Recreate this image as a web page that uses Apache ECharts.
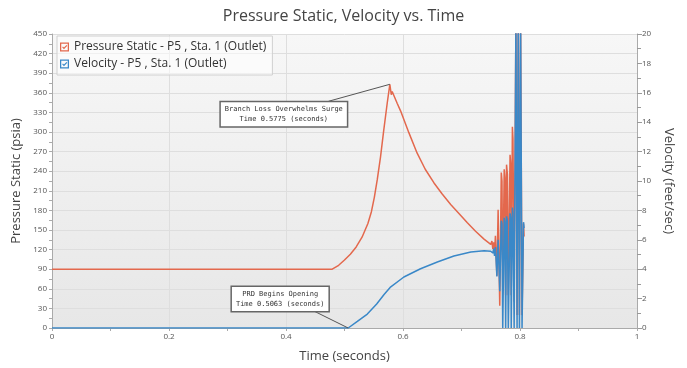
<!DOCTYPE html>
<html>
<head>
<meta charset="utf-8">
<script src="https://cdn.jsdelivr.net/npm/echarts@6/dist/echarts.min.js"></script>
<style>
  html, body { margin: 0; padding: 0; background: #fff; }
  #chart { width: 687px; height: 368px; }
</style>
</head>
<body>
<div id="chart"></div>
<script>
// pressure static at P5 (psia)
const pressureTime = [0, 0.479, 0.490, 0.500, 0.510, 0.520, 0.530, 0.540, 0.546, 0.551, 0.556, 0.5616, 0.567, 0.573, 0.5775,
  0.580, 0.5815, 0.590, 0.596, 0.610, 0.624, 0.638, 0.653, 0.667, 0.6815, 0.696, 0.710, 0.724, 0.7385, 0.750,
  0.752, 0.7535, 0.755, 0.7565, 0.758, 0.7605, 0.7626, 0.7654, 0.768, 0.7692, 0.7705, 0.773, 0.7742, 0.7755,
  0.777, 0.7785, 0.780, 0.783, 0.7842, 0.785, 0.787, 0.788, 0.790, 0.793, 0.795, 0.797, 0.799, 0.801, 0.8035,
  0.806, 0.807]
const pressureValue = [90, 90, 96, 104, 113, 124, 139, 160, 178, 200, 227, 262, 302, 344, 373,
  357, 362, 344, 332, 299, 268, 243, 222, 205, 189, 175, 161, 148, 136, 128,
  133, 121, 131, 116, 141, 80, 181, 34, 238, 225, 60, 243, 230, 50,
  250, 235, 50, 265, 250, 50, 308, 290, 40, 470, 20, 470, 20, 470, 20,
  160, 140]

// velocity at P5 (feet/sec)
const velocityTime = [0, 0.5063, 0.522, 0.539, 0.555, 0.568, 0.578, 0.6015, 0.630, 0.6587, 0.687, 0.716, 0.7385, 0.750,
  0.752, 0.7535, 0.755, 0.7565, 0.758, 0.7605, 0.7626, 0.7654, 0.768, 0.7692, 0.7705, 0.773, 0.7742, 0.7755,
  0.777, 0.7785, 0.780, 0.783, 0.7842, 0.785, 0.787, 0.788, 0.790, 0.793, 0.795, 0.797, 0.799, 0.801, 0.8035,
  0.806, 0.807]
const velocityValue = [0, 0, 0.45, 0.95, 1.63, 2.3, 2.76, 3.47, 4.03, 4.49, 4.9, 5.17, 5.25, 5.22,
  5.3, 5.1, 5.4, 4.9, 5.5, 3.5, 6.0, 2.5, 7.3, 7.1, 0, 7.5, 7.2, 0,
  7.6, 7.3, 0, 7.8, 7.5, 0, 8.2, 7.8, 0, 21, 0, 21, 0, 21, 0,
  7.2, 6.8]

const checkIcon = 'path://M0,0L10,0L10,10L0,10ZM1.4,1.4L1.4,8.6L8.6,8.6L8.6,1.4ZM2.4,5.3L3.3,4.4L4.4,5.6L7.2,2.7L8.1,3.6L4.4,7.5Z'
const font = 'Open Sans'
const monoLabel = {
  show: true,
  position: 'inside',
  fontFamily: 'DejaVu Sans Mono',
  fontSize: 7,
  lineHeight: 10,
  color: '#333',
  align: 'center',
  backgroundColor: '#fff',
  borderColor: '#666',
  borderWidth: 1.5,
  padding: [2, 4]
}

const chart = echarts.init(document.getElementById('chart'))
chart.setOption({
  animation: false,
  title: {
    text: 'Pressure Static, Velocity vs. Time',
    left: 'center',
    top: 3,
    textStyle: { fontFamily: font, fontSize: 16, fontWeight: 'normal', color: '#444' }
  },
  legend: {
    orient: 'vertical',
    left: 57,
    top: 36,
    itemWidth: 9,
    itemHeight: 9,
    itemGap: 5,
    padding: [5, 6, 5, 3],
    backgroundColor: 'rgba(255,255,255,0.55)',
    borderColor: '#d0d0d0',
    borderWidth: 1,
    borderRadius: 0,
    icon: checkIcon,
    textStyle: { fontFamily: font, fontSize: 12, color: '#333' },
    data: ['Pressure Static - P5 , Sta. 1 (Outlet)', 'Velocity - P5 , Sta. 1 (Outlet)']
  },
  grid: {
    left: 52,
    right: 50,
    top: 34,
    bottom: 38,
    show: true,
    borderWidth: 0,
    backgroundColor: new echarts.graphic.LinearGradient(0, 0, 0, 1, [
      { offset: 0, color: '#f7f7f7' },
      { offset: 1, color: '#e7e7e7' }
    ])
  },
  xAxis: {
    type: 'value',
    min: 0,
    max: 1,
    interval: 0.2,
    name: 'Time (seconds)',
    nameLocation: 'middle',
    nameGap: 22,
    nameTextStyle: { fontFamily: font, fontSize: 13, color: '#444' },
    axisLine: { lineStyle: { color: '#aaa' } },
    axisTick: { length: 3, lineStyle: { color: '#aaa' } },
    minorTick: { show: true, splitNumber: 2, length: 3, lineStyle: { color: '#aaa' } },
    axisLabel: { fontFamily: font, fontSize: 8, color: '#555', margin: 5 },
    splitLine: { show: true, lineStyle: { color: '#dedede' } }
  },
  yAxis: [
    {
      type: 'value',
      min: 0,
      max: 450,
      interval: 30,
      name: 'Pressure Static (psia)',
      nameLocation: 'middle',
      nameGap: 25,
      nameTextStyle: { fontFamily: font, fontSize: 13, color: '#444' },
      axisLine: { show: true, lineStyle: { color: '#aaa' } },
      axisTick: { show: true, length: 3, lineStyle: { color: '#aaa' } },
      minorTick: { show: true, splitNumber: 2, length: 3, lineStyle: { color: '#aaa' } },
      axisLabel: { fontFamily: font, fontSize: 8, color: '#555', margin: 5 },
      splitLine: { show: true, lineStyle: { color: '#dedede' } }
    },
    {
      type: 'value',
      position: 'right',
      min: 0,
      max: 20,
      interval: 2,
      name: 'Velocity (feet/sec)',
      nameLocation: 'middle',
      nameGap: 25,
      nameRotate: -90,
      nameTextStyle: { fontFamily: font, fontSize: 13, color: '#444' },
      axisLine: { show: true, lineStyle: { color: '#aaa' } },
      axisTick: { show: true, length: 5, lineStyle: { color: '#999' } },
      minorTick: { show: true, splitNumber: 2, length: 4, lineStyle: { color: '#999' } },
      axisLabel: { fontFamily: font, fontSize: 8, color: '#555', margin: 5 },
      splitLine: { show: false }
    }
  ],
  series: [
    {
      name: 'Pressure Static - P5 , Sta. 1 (Outlet)',
      type: 'line',
      yAxisIndex: 0,
      symbol: 'none',
      color: '#e3684d',
      lineStyle: { width: 1.5 },
      data: pressureTime.map((t, i) => [t, pressureValue[i]]),
      markLine: {
        silent: true,
        symbol: 'none',
        label: { show: false },
        lineStyle: { color: '#555', width: 1, type: 'solid' },
        data: [[{ coord: [0.5775, 373] }, { coord: [0.4726, 347] }]]
      },
      markPoint: {
        symbol: 'circle',
        symbolSize: 1,
        itemStyle: { color: 'rgba(0,0,0,0)' },
        label: Object.assign({}, monoLabel, {
          offset: [-106, 30],
          formatter: 'Branch Loss Overwhelms Surge\nTime 0.5775 (seconds)'
        }),
        data: [{ coord: [0.5775, 373] }]
      }
    },
    {
      name: 'Velocity - P5 , Sta. 1 (Outlet)',
      type: 'line',
      yAxisIndex: 1,
      symbol: 'none',
      color: '#3a88c8',
      lineStyle: { width: 1.5 },
      data: velocityTime.map((t, i) => [t, velocityValue[i]]),
      markLine: {
        silent: true,
        symbol: 'none',
        label: { show: false },
        lineStyle: { color: '#555', width: 1, type: 'solid' },
        data: [[{ coord: [0.5063, 0] }, { coord: [0.4418, 1.27] }]]
      },
      markPoint: {
        symbol: 'circle',
        symbolSize: 1,
        itemStyle: { color: 'rgba(0,0,0,0)' },
        label: Object.assign({}, monoLabel, {
          offset: [-68, -29],
          formatter: 'PRD Begins Opening\nTime 0.5063 (seconds)'
        }),
        data: [{ coord: [0.5063, 0] }]
      }
    }
  ]
})
</script>
</body>
</html>
